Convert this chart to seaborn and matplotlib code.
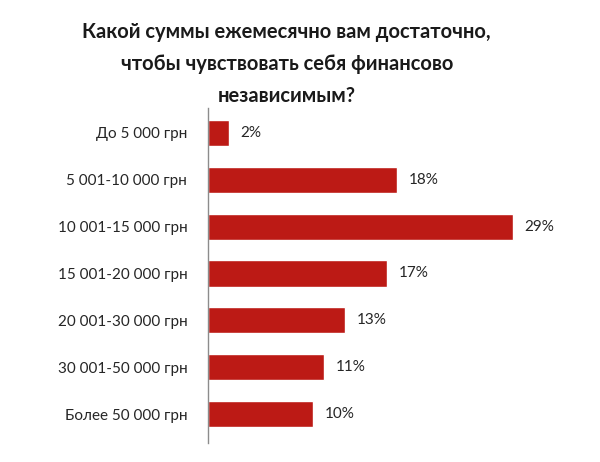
import pandas as pd
import matplotlib.pyplot as plt
import seaborn as sns

categories = ["До 5 000 грн", "5 001-10 000 грн", "10 001-15 000 грн", "15 001-20 000 грн",
              "20 001-30 000 грн", "30 001-50 000 грн", "Более 50 000 грн"]
shares = [2, 18, 29, 17, 13, 11, 10]
title = "Какой суммы ежемесячно вам достаточно,\nчтобы чувствовать себя финансово\nнезависимым?"

df = pd.DataFrame({"category": categories, "share": shares})

sns.set_style("white")
plt.rcParams['font.family'] = ['Lato', 'DejaVu Sans']

fig = plt.figure(figsize=(6, 4.62), dpi=100)
ax = fig.add_axes([0.347, 0.041, 0.613, 0.725])

sns.barplot(data=df, x="share", y="category", orient="h", color="#BC1A15",
            saturation=1, width=0.56, ax=ax)

for i, v in enumerate(df["share"]):
    ax.text(v + 1.1, i, f"{v}%", va="center", ha="left", fontsize=11, color="#262626")

ax.set_xlim(0, 35)
ax.set_ylim(6.62, -0.53)
ax.set_xlabel("")
ax.set_ylabel("")
ax.set_xticks([])
ax.tick_params(axis="y", length=0, pad=15, labelsize=11, labelcolor="#262626")
for s in ["top", "right", "bottom"]:
    ax.spines[s].set_visible(False)
ax.spines["left"].set_color("#8c8c8c")
ax.spines["left"].set_linewidth(1)

fig.text(0.478, 0.862, title, ha="center", va="center", fontsize=14.5, fontweight="bold",
         color="#1a1a1a", linespacing=1.75)

plt.savefig("out.png")
